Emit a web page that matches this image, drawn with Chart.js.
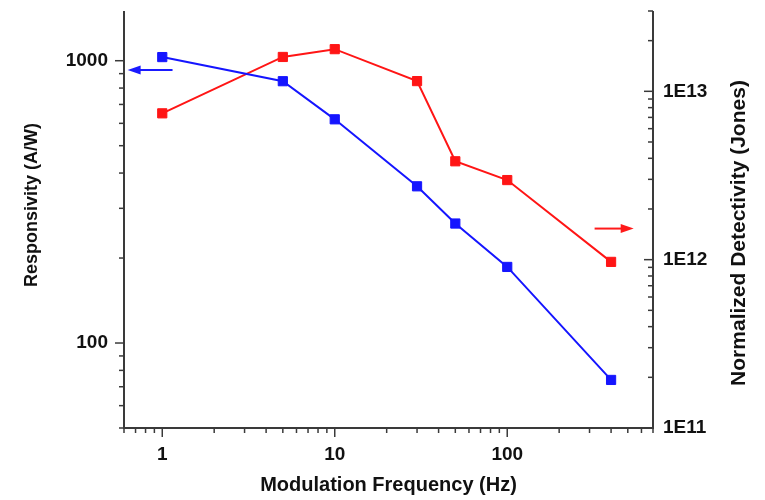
<!DOCTYPE html>
<html lang="en">
<head>
<meta charset="UTF-8">
<title>Responsivity and Detectivity vs Modulation Frequency</title>
<script src="https://cdn.jsdelivr.net/npm/chart.js"></script>
<style>
  html, body { margin: 0; padding: 0; background: #fff; }
  #wrap { width: 765px; height: 500px; }
</style>
</head>
<body>
<div id="wrap"><canvas id="chart"></canvas></div>
<script>
const frequencies = [1, 5, 10, 30, 50, 100, 400];
const responsivity = [1030, 846, 620, 359, 265, 186, 74];
const detectivity = [7.4e12, 1.6e13, 1.78e13, 1.15e13, 3.84e12, 2.97e12, 9.7e11];

const xRange = [0.6, 700];
const leftRange = [50, 1500];
const rightRange = [1e11, 3e13];

const xTitle = 'Modulation Frequency (Hz)';
const leftTitle = 'Responsivity (A/W)';
const rightTitle = 'Normalized Detectivity (Jones)';

// little arrows saying which axis each curve is read on
const arrows = [
  { from: 1.147, to: 0.63, y: 927, axis: 'y', color: '#1a1aff' },
  { from: 321, to: 541, y: 1.53e12, axis: 'y1', color: '#ff1a1a' }
];

const fontFamily = "'Liberation Sans', Arial, sans-serif";

function logTicks(min, max) {
  const out = [];
  for (let e = Math.floor(Math.log10(min)); e <= Math.ceil(Math.log10(max)); e++) {
    for (let s = 1; s <= 9; s++) {
      const v = s * Math.pow(10, e);
      if (v >= min * 0.999 && v <= max * 1.001) out.push({ value: v, major: s === 1 });
    }
  }
  return out;
}

function isMajor(v) {
  const e = Math.round(Math.log10(v));
  return Math.abs(v / Math.pow(10, e) - 1) < 1e-6;
}

const axisPlugin = {
  id: 'axisPlugin',
  afterDraw(chart) {
    const ctx = chart.ctx;
    const a = chart.chartArea;
    const line = (x0, y0, x1, y1) => { ctx.beginPath(); ctx.moveTo(x0, y0); ctx.lineTo(x1, y1); ctx.stroke(); };
    ctx.save();
    ctx.strokeStyle = '#3a3a3a';
    ctx.lineWidth = 2;
    ctx.beginPath();
    ctx.moveTo(a.left, a.top);
    ctx.lineTo(a.left, a.bottom);
    ctx.lineTo(a.right, a.bottom);
    ctx.lineTo(a.right, a.top);
    ctx.stroke();

    ctx.lineWidth = 1.5;
    chart.scales.x.ticks.forEach(t => {
      const px = chart.scales.x.getPixelForValue(t.value);
      line(px, a.bottom, px, a.bottom + (t.major ? 9 : 5));
    });
    chart.scales.y.ticks.forEach(t => {
      const py = chart.scales.y.getPixelForValue(t.value);
      line(a.left - (t.major ? 9 : 5), py, a.left, py);
    });
    chart.scales.y1.ticks.forEach(t => {
      const py = chart.scales.y1.getPixelForValue(t.value);
      line(a.right - (t.major ? 9 : 5), py, a.right, py);
    });

    arrows.forEach(ar => {
      const x0 = chart.scales.x.getPixelForValue(ar.from);
      const x1 = chart.scales.x.getPixelForValue(ar.to);
      const y = chart.scales[ar.axis].getPixelForValue(ar.y);
      const dir = Math.sign(x1 - x0);
      ctx.strokeStyle = ar.color;
      ctx.fillStyle = ar.color;
      ctx.lineWidth = 2;
      line(x0, y, x1 - dir * 10, y);
      ctx.beginPath();
      ctx.moveTo(x1, y);
      ctx.lineTo(x1 - dir * 13, y - 4.5);
      ctx.lineTo(x1 - dir * 13, y + 4.5);
      ctx.closePath();
      ctx.fill();
    });

    // axis titles, both vertical ones read bottom to top
    ctx.fillStyle = '#111';
    ctx.textAlign = 'center';
    ctx.textBaseline = 'middle';
    ctx.font = 'bold 20px ' + fontFamily;
    ctx.fillText(xTitle, (a.left + a.right) / 2, 485);

    ctx.save();
    ctx.translate(32, 205);
    ctx.rotate(-Math.PI / 2);
    ctx.font = 'bold 18px ' + fontFamily;
    ctx.fillText(leftTitle, 0, 0);
    ctx.restore();

    ctx.save();
    ctx.translate(739, 233);
    ctx.rotate(-Math.PI / 2);
    ctx.font = 'bold 21px ' + fontFamily;
    ctx.fillText(rightTitle, 0, 0);
    ctx.restore();

    ctx.restore();
  }
};

const tickFont = { family: fontFamily, size: 19, weight: 'bold' };
const hiddenGrid = { display: true, drawOnChartArea: false, drawTicks: false, color: 'rgba(0,0,0,0)' };

new Chart(document.getElementById('chart'), {
  type: 'line',
  data: {
    datasets: [
      {
        label: 'Responsivity',
        data: frequencies.map((f, i) => ({ x: f, y: responsivity[i] })),
        yAxisID: 'y',
        borderColor: '#1515ff',
        backgroundColor: '#1515ff',
        borderWidth: 2,
        pointStyle: 'rect',
        pointRadius: 6.5,
        pointBorderWidth: 1,
        tension: 0
      },
      {
        label: 'Detectivity',
        data: frequencies.map((f, i) => ({ x: f, y: detectivity[i] })),
        yAxisID: 'y1',
        borderColor: '#ff1515',
        backgroundColor: '#ff1515',
        borderWidth: 2,
        pointStyle: 'rect',
        pointRadius: 6.5,
        pointBorderWidth: 1,
        tension: 0
      }
    ]
  },
  options: {
    responsive: true,
    maintainAspectRatio: false,
    animation: false,
    layout: { padding: { top: 11, left: 0, right: 0, bottom: 0 } },
    plugins: {
      legend: { display: false },
      tooltip: { enabled: false }
    },
    scales: {
      x: {
        type: 'logarithmic',
        min: xRange[0],
        max: xRange[1],
        grid: hiddenGrid,
        border: { display: false },
        afterBuildTicks: s => { s.ticks = logTicks(xRange[0], xRange[1]); },
        afterFit: s => { s.height = 72; s.paddingLeft = 0; s.paddingRight = 0; },
        ticks: {
          autoSkip: false,
          maxRotation: 0,
          padding: 15,
          color: '#111',
          font: tickFont,
          callback: v => isMajor(v) ? String(Math.round(v)) : ''
        }
      },
      y: {
        type: 'logarithmic',
        position: 'left',
        min: leftRange[0],
        max: leftRange[1],
        grid: hiddenGrid,
        border: { display: false },
        afterBuildTicks: s => { s.ticks = logTicks(leftRange[0], leftRange[1]); },
        afterFit: s => { s.width = 124; s.paddingTop = 0; s.paddingBottom = 0; },
        ticks: {
          autoSkip: false,
          padding: 16,
          color: '#111',
          font: tickFont,
          callback: v => isMajor(v) ? String(Math.round(v)) : ''
        }
      },
      y1: {
        type: 'logarithmic',
        position: 'right',
        min: rightRange[0],
        max: rightRange[1],
        grid: hiddenGrid,
        border: { display: false },
        afterBuildTicks: s => { s.ticks = logTicks(rightRange[0], rightRange[1]); },
        afterFit: s => { s.width = 112; s.paddingTop = 0; s.paddingBottom = 0; },
        ticks: {
          autoSkip: false,
          padding: 10,
          color: '#111',
          font: tickFont,
          callback: v => isMajor(v) ? '1E' + Math.round(Math.log10(v)) : ''
        }
      }
    }
  },
  plugins: [axisPlugin]
});
</script>
</body>
</html>
